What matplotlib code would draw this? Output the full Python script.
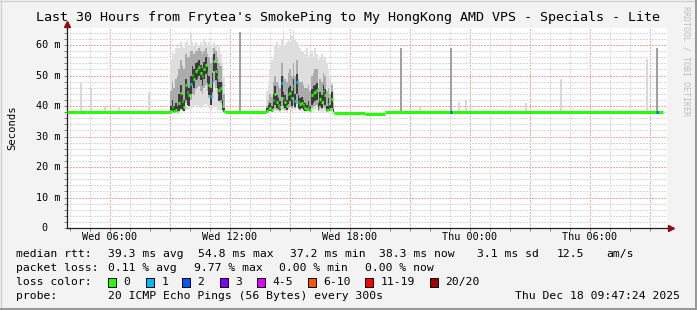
import matplotlib
matplotlib.use('Agg')
import matplotlib.pyplot as plt
from matplotlib.patches import Rectangle
from matplotlib.lines import Line2D

# time axis in hours since Wed 00:00, 5-minute steps
step = 1 / 12
t_start, t_end = 3.85, 33.85

# flat median periods (start, end, value in ms)
base_from = [3.85, 4.35, 4.85, 11.75, 17.22, 18.75, 19.75]
base_to = [4.35, 4.85, 9.0, 13.8, 18.75, 19.75, 33.65]
base_val = [37.9, 38.1, 37.9, 38.1, 37.7, 37.4, 38.2]

# first congestion episode (09:00 onwards)
ep1_start = 9.0
ep1_med = [38.5, 39.8, 38.3, 38.6, 38.1, 41.0, 44.4, 41.7, 39.8, 46.9, 44.7, 43.5, 47.2, 50.2, 49.0, 51.6, 52.0,
           52.9, 51.0, 49.8, 52.0, 53.5, 50.7, 47.0, 43.3, 48.0, 54.8, 51.6, 49.6, 45.2, 45.8, 40.0, 38.4]
ep1_loss = [0, 0, 0, 0, 0, 0, 0, 0, 0, 0, 0, 0, 1, 0, 0, 0, 0,
            0, 0, 0, 0, 0, 0, 0, 1, 1, 0, 0, 0, 0, 0, 0, 0]
ep1_hi = [55, 58, 57, 59, 60, 59, 61, 60, 59, 61, 62, 60, 64, 61, 60, 61, 59,
          60, 61, 60, 62, 61, 60, 61, 60, 59, 61, 60, 58, 60, 57, 54, 50]
ep1_lo = [38.0, 38.2, 38.0, 38.1, 38.0, 38.2, 38.4, 38.3, 38.2, 38.6, 38.8, 39.0, 39.2, 39.5, 39.8, 40.2, 40.5,
          40.0, 39.5, 39.8, 40.2, 40.6, 40.0, 39.5, 38.8, 39.0, 39.6, 39.4, 38.8, 38.6, 38.5, 38.2, 38.0]
ep1_mhi = [45, 48, 46, 49, 50, 52, 55, 53, 52, 57, 56, 56, 58, 58, 57, 58, 58,
           59, 58, 57, 58, 59, 57, 56, 54, 56, 59, 58, 56, 54, 53, 48, 44]
ep1_mlo = [38.2, 38.5, 38.2, 38.3, 38.2, 38.6, 39.5, 39.0, 38.6, 41.0, 40.5, 40.2, 42.0, 44.0, 43.5, 45.5, 46.0,
           46.5, 45.0, 44.0, 46.0, 47.0, 45.0, 42.5, 40.5, 42.5, 48.0, 46.0, 44.0, 41.5, 41.0, 38.8, 38.2]
ep1_chi = [40, 42, 40, 41, 40, 44, 47, 44, 42, 49, 47, 46, 50, 53, 52, 54, 54.5,
           55, 53.5, 52.5, 54.5, 56, 53, 50, 46, 51, 57, 54, 52, 48, 48, 42, 39.5]
ep1_clo = [38.2, 38.4, 38.2, 38.2, 38.1, 38.5, 39.0, 38.6, 38.4, 42.0, 40.5, 40.0, 44.0, 47.0, 46.0, 48.5, 49.0,
           50.0, 48.5, 46.5, 49.0, 50.5, 47.5, 43.5, 40.5, 44.5, 51.5, 48.5, 46.0, 41.5, 42.0, 38.6, 38.2]

# second congestion episode (13:48 onwards)
ep2_start = 13.8
ep2_med = [38.5, 39.0, 39.2, 38.6, 42.0, 44.0, 41.4, 40.5, 39.8, 47.4, 42.5, 41.4, 40.0, 43.8, 44.2, 42.8, 46.5,
           41.6, 48.0, 41.4, 40.7, 41.0, 40.3, 39.5, 38.9, 39.8, 38.7, 43.6, 44.3, 44.7, 45.2, 39.2, 42.3, 41.4,
           45.0, 43.6, 38.7, 40.6, 39.0, 42.3, 38.2]
ep2_loss = [0, 0, 0, 0, 0, 0, 0, 0, 0, 1, 0, 0, 0, 0, 0, 0, 0,
            1, 1, 0, 0, 0, 0, 0, 0, 0, 0, 0, 0, 0, 0, 0, 0, 0,
            0, 0, 0, 0, 0, 0, 0]
ep2_hi = [45, 47, 52, 55, 56, 60, 61, 59, 60, 62, 65, 60, 61, 62, 61, 63, 65,
          62, 61, 60, 59, 58, 58, 57, 59, 56, 57, 58, 56, 59, 57, 55, 56, 57,
          55, 56, 54, 52, 50, 48, 45]
ep2_lo = [38.0, 38.0, 38.1, 38.0, 38.2, 38.4, 38.3, 38.2, 38.1, 38.6, 38.5, 38.3, 38.2, 38.6, 38.8, 38.5, 39.0,
          38.6, 39.2, 38.4, 38.3, 38.4, 38.2, 38.1, 38.0, 38.1, 38.0, 38.5, 38.6, 38.8, 38.9, 38.1, 38.3, 38.2,
          38.5, 38.4, 38.0, 38.1, 38.0, 38.2, 38.0]
ep2_mhi = [40, 42, 44, 43, 48, 50, 48, 47, 46, 54, 50, 49, 48, 51, 52, 50, 54,
           50, 55, 49, 48, 48, 47, 46, 46, 47, 45, 50, 51, 52, 52, 46, 49, 48,
           51, 50, 45, 46, 44, 47, 41]
ep2_mlo = [38.1, 38.2, 38.3, 38.2, 38.6, 39.0, 38.8, 38.6, 38.4, 40.0, 39.0, 38.8, 38.6, 39.5, 39.8, 39.2, 40.5,
           39.2, 40.8, 39.0, 38.8, 38.9, 38.6, 38.4, 38.3, 38.5, 38.3, 39.5, 39.8, 40.0, 40.2, 38.5, 39.2, 39.0,
           39.8, 39.5, 38.3, 38.6, 38.3, 38.8, 38.1]
ep2_chi = [39.2, 40.5, 41.0, 40.0, 44.0, 46.5, 43.5, 42.5, 41.5, 50.0, 44.5, 43.5, 42.0, 46.0, 46.5, 45.0, 49.0,
           44.0, 50.5, 43.5, 42.5, 43.0, 42.0, 41.0, 40.5, 41.5, 40.0, 45.5, 46.5, 47.0, 47.5, 41.0, 44.5, 43.5,
           47.0, 45.5, 40.0, 42.5, 40.5, 44.5, 39.0]
ep2_clo = [38.2, 38.4, 38.5, 38.3, 39.2, 40.5, 39.5, 38.9, 38.6, 43.0, 40.0, 39.4, 38.8, 40.8, 41.5, 40.0, 43.0,
           39.6, 44.0, 39.4, 39.0, 39.2, 38.8, 38.5, 38.4, 38.8, 38.4, 40.5, 41.0, 41.5, 42.0, 38.6, 40.0, 39.4,
           41.5, 40.5, 38.4, 38.9, 38.4, 39.5, 38.1]

# isolated slow pings outside the episodes
spike_t = [4.5, 5.0, 5.7, 6.4, 7.9, 12.45, 20.5, 21.45, 23.0, 23.4, 23.75, 26.75, 28.5, 32.8, 33.3]
spike_top = [47.4, 45.9, 40.0, 40.0, 44.5, 64.4, 58.9, 40.0, 58.9, 41.4, 42.0, 41.1, 48.8, 55.3, 58.9]
spike_dark = [0, 0, 0, 0, 0, 1, 1, 0, 1, 0, 0, 0, 0, 0, 1]
# single lossy samples on the flat part
lossy_t = [23.0, 33.3]
lossy_val = [38.2, 38.2]
lossy_n = [2, 2]

loss_colors = ['#26ff00', '#00b8ff', '#0059ff', '#7e00ff', '#dd00ff', '#ff5500', '#ff0000', '#a10000']
loss_labels = ['0', '1', '2', '3', '4-5', '6-10', '11-19', '20/20']

tick_hours = [6, 12, 18, 24, 30]
tick_labels = ['Wed 06:00', 'Wed 12:00', 'Wed 18:00', 'Thu 00:00', 'Thu 06:00']
y_ticks = [0, 10, 20, 30, 40, 50, 60]
y_labels = ['0', '10 m', '20 m', '30 m', '40 m', '50 m', '60 m']

W, H = 697, 310
plt.rcParams['font.family'] = 'DejaVu Sans Mono'


def fx(px):
    return px / W


def fy(py):
    return 1 - py / H


fig = plt.figure(figsize=(W / 100, H / 100), dpi=100, facecolor='#f3f3f3')
ax = fig.add_axes([fx(67), fy(228), 600 / W, 200 / H])
ax.set_facecolor('white')
ax.set_xlim(t_start, t_end)
ax.set_ylim(0, 65.6)

# grid: hours / 3 hours, 2 ms / 10 ms
for h in range(4, 34):
    col = '#f2aaaa' if h % 3 == 0 else '#dadada'
    ax.axvline(h, color=col, lw=0.75, ls=(0, (1, 1)), antialiased=False, zorder=0)
for v in range(2, 66, 2):
    col = '#f2aaaa' if v % 10 == 0 else '#dadada'
    ax.axhline(v, color=col, lw=0.75, ls=(0, (1, 1)), antialiased=False, zorder=0)

# slow ping spikes
for t, top, dark in zip(spike_t, spike_top, spike_dark):
    ax.bar(t, top - 37.5, bottom=37.5, width=step, align='edge', lw=0,
           color='#a0a0a0' if dark else '#d8d8d8', zorder=1)

# smoke of the two episodes
for start, lo, hi, mlo, mhi, clo, chi in [
        (ep1_start, ep1_lo, ep1_hi, ep1_mlo, ep1_mhi, ep1_clo, ep1_chi),
        (ep2_start, ep2_lo, ep2_hi, ep2_mlo, ep2_mhi, ep2_clo, ep2_chi)]:
    xs = [start + i * step for i in range(len(lo))]
    ax.bar(xs, [b - a for a, b in zip(lo, hi)], bottom=lo, width=step, align='edge',
           lw=0, color='#dedede', zorder=2)
    ax.bar(xs, [b - a for a, b in zip(mlo, mhi)], bottom=mlo, width=step, align='edge',
           lw=0, color='#ababab', zorder=2)
    ax.bar(xs, [b - a for a, b in zip(clo, chi)], bottom=clo, width=step, align='edge',
           lw=0, color='#3c3c3c', zorder=2)

# median rtt
ax.hlines(base_val, base_from, base_to, colors=loss_colors[0], lw=2.2, zorder=3)
for start, med, loss in [(ep1_start, ep1_med, ep1_loss), (ep2_start, ep2_med, ep2_loss)]:
    xs = [start + i * step for i in range(len(med))]
    ax.hlines(med, xs, [x + step for x in xs], colors=[loss_colors[n] for n in loss],
              lw=2.2, zorder=3)
ax.hlines(lossy_val, lossy_t, [t + step for t in lossy_t],
          colors=[loss_colors[n] for n in lossy_n], lw=2.2, zorder=4)

# axes
for s in ['top', 'right']:
    ax.spines[s].set_visible(False)
for s in ['left', 'bottom']:
    ax.spines[s].set_color('#202020')
    ax.spines[s].set_linewidth(0.9)
ax.set_xticks(range(4, 34))
ax.set_xticklabels([])
ax.set_yticks(range(0, 66, 2))
ax.set_yticklabels([])
ax.tick_params(length=2, width=0.6, color='#707070')
ax.plot([1.006], [0], marker='>', color='#8b1010', ms=4, transform=ax.transAxes, clip_on=False)
ax.plot([0], [1.02], marker='^', color='#8b1010', ms=4, transform=ax.transAxes, clip_on=False)

for h, lab in zip(tick_hours, tick_labels):
    fig.text(fx(67 + (h - t_start) * 20), fy(237), lab, ha='center', va='center', size=7.3)
for v, lab in zip(y_ticks, y_labels):
    right = 60 if v else 47
    fig.text(fx(right), fy(228 - v * 200 / 65.6), lab, ha='right', va='center', size=7.3)
fig.text(fx(12), fy(128), 'Seconds', rotation=90, ha='center', va='center', size=7.6)

fig.text(fx(348), fy(18), "Last 30 Hours from Frytea's SmokePing to My HongKong AMD VPS - Specials - Lite",
         ha='center', va='center', size=9.6)
fig.text(fx(686), fy(6), 'RRDTOOL / TOBI OETIKER', rotation=270, ha='center', va='top',
         size=6, color='#bdbdbd')

# legend
rows = [
    (254, [(16, 'median rtt:'), (107.6, '39.3 ms avg'), (198, '54.8 ms max'), (290, '37.2 ms min'),
           (379, '38.3 ms now'), (477, '3.1 ms sd'), (557, '12.5'), (606, 'am/s')]),
    (268, [(16, 'packet loss:'), (107.6, '0.11 % avg'), (194, '9.77 % max'), (279, '0.00 % min'),
           (365, '0.00 % now')]),
    (282, [(16, 'loss color:')]),
    (296, [(16, 'probe:'), (107.6, '20 ICMP Echo Pings (56 Bytes) every 300s')]),
]
for y, items in rows:
    for x, s in items:
        fig.text(fx(x), fy(y), s, ha='left', va='center', size=8.2)
fig.text(fx(680), fy(296), 'Thu Dec 18 09:47:24 2025', ha='right', va='center', size=8.2)

box_x = [108, 146, 182, 219.5, 257, 307.5, 365, 430]
for bx, col, lab in zip(box_x, loss_colors, loss_labels):
    fig.add_artist(Rectangle((fx(bx), fy(286.5)), 8 / W, 9 / H, transform=fig.transFigure,
                             facecolor=col, edgecolor='black', lw=0.7))
    fig.text(fx(bx + 15.5), fy(282), lab, ha='left', va='center', size=8.2)

# 3d frame
fig.add_artist(Line2D([0, 1], [1 - 0.5 / H] * 2, color='#d0d0d0', lw=1, transform=fig.transFigure))
fig.add_artist(Line2D([0.5 / W] * 2, [0, 1], color='#d0d0d0', lw=1, transform=fig.transFigure))
fig.add_artist(Line2D([0, 1], [1 / H] * 2, color='#9a9a9a', lw=1.5, transform=fig.transFigure))
fig.add_artist(Line2D([1 - 1 / W] * 2, [0, 1], color='#9a9a9a', lw=1.5, transform=fig.transFigure))

fig.savefig('out.png', dpi=100, facecolor=fig.get_facecolor())
